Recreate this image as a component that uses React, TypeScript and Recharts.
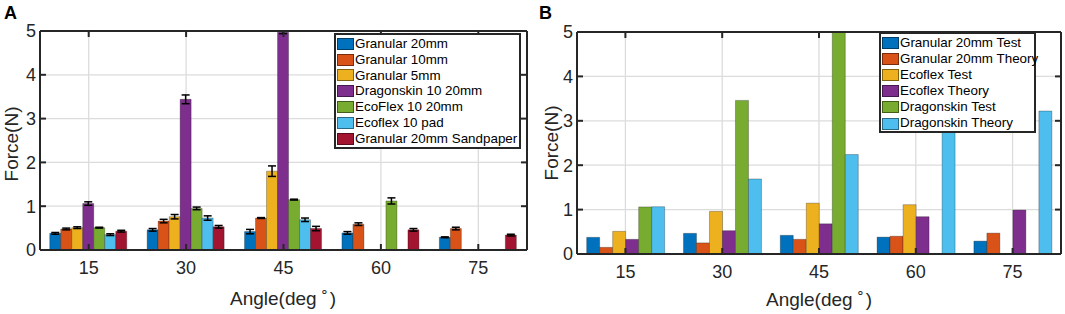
import React from 'react';
import { BarChart, Bar, XAxis, YAxis, CartesianGrid, ErrorBar, Legend } from 'recharts';

// ---------- shared ----------
const angles = [15, 30, 45, 60, 75];
const yTicks = [0, 1, 2, 3, 4, 5];

// ---------- Panel A (measured forces with error bars) ----------
const seriesNamesA = [
  'Granular 20mm',
  'Granular 10mm',
  'Granular 5mm',
  'Dragonskin 10 20mm',
  'EcoFlex 10 20mm',
  'Ecoflex 10 pad',
  'Granular 20mm Sandpaper',
];
const granular20 = [0.38, 0.46, 0.42, 0.39, 0.29];
const granular20Err = [0.02, 0.03, 0.05, 0.03, 0.01];
const granular10 = [0.48, 0.66, 0.73, 0.59, 0.49];
const granular10Err = [0.02, 0.04, 0.01, 0.03, 0.03];
const granular5 = [0.51, 0.76, 1.8, null, null];
const granular5Err = [0.02, 0.05, 0.12, null, null];
const dragonskin20 = [1.06, 3.44, 4.97, null, null];
const dragonskin20Err = [0.04, 0.1, 0.03, null, null];
const ecoflex20 = [0.51, 0.95, 1.15, 1.12, null];
const ecoflex20Err = [0.01, 0.03, 0.01, 0.07, null];
const ecoflexPad = [0.35, 0.73, 0.69, null, null];
const ecoflexPadErr = [0.02, 0.05, 0.04, null, null];
const sandpaper = [0.43, 0.53, 0.49, 0.46, 0.34];
const sandpaperErr = [0.02, 0.03, 0.05, 0.03, 0.02];

// ---------- Panel B (test vs theory) ----------
const seriesNamesB = [
  'Granular 20mm Test',
  'Granular 20mm Theory',
  'Ecoflex Test',
  'Ecoflex Theory',
  'Dragonskin Test',
  'Dragonskin Theory',
];
const granularTest = [0.375, 0.465, 0.42, 0.38, 0.29];
const granularTheory = [0.15, 0.25, 0.33, 0.4, 0.47];
const ecoflexTest = [0.51, 0.96, 1.145, 1.11, null];
const ecoflexTheory = [0.33, 0.525, 0.68, 0.84, 0.99];
const dragonskinTest = [1.06, 3.46, 5.0, null, null];
const dragonskinTheory = [1.065, 1.69, 2.24, 2.8, 3.22];

const colors = ['#0072BD', '#D95319', '#EDB120', '#7E2F8E', '#77AC30', '#4DBEEE', '#A2142F'];

const keysA = ['g20', 'g10', 'g5', 'd20', 'e20', 'epad', 'sand'];
const valsA = [granular20, granular10, granular5, dragonskin20, ecoflex20, ecoflexPad, sandpaper];
const errsA = [granular20Err, granular10Err, granular5Err, dragonskin20Err, ecoflex20Err, ecoflexPadErr, sandpaperErr];

const dataA = angles.map((a, i) => {
  const row: any = { angle: a };
  keysA.forEach((k, j) => {
    row[k] = valsA[j][i];
    row[k + 'Err'] = errsA[j][i];
  });
  return row;
});

const keysB = ['gt', 'gth', 'et', 'eth', 'dt', 'dth'];
const valsB = [granularTest, granularTheory, ecoflexTest, ecoflexTheory, dragonskinTest, dragonskinTheory];
const dataB = angles.map((a, i) => {
  const row: any = { angle: a };
  keysB.forEach((k, j) => {
    row[k] = valsB[j][i];
  });
  return row;
});

const FONT = '"Liberation Sans", Arial, Helvetica, sans-serif';
const AXIS = '#262626';

const makeLegend = (names: string[], width: number, height: number, rowH: number) => () => (
  <div
    style={{
      width,
      height,
      boxSizing: 'border-box',
      border: `2px solid ${AXIS}`,
      background: '#fff',
      padding: '1px 1px',
      fontFamily: FONT,
      fontSize: 13.4,
      color: '#000',
      lineHeight: `${rowH}px`,
    }}
  >
    {names.map((name, i) => (
      <div key={i} style={{ display: 'flex', alignItems: 'center', height: rowH, whiteSpace: 'nowrap' }}>
        <span
          style={{
            display: 'inline-block',
            width: 17,
            height: 12,
            boxSizing: 'border-box',
            background: colors[i],
            border: '0.6px solid rgba(0,0,0,0.45)',
            marginRight: 1,
            flex: 'none',
          }}
        />
        <span>{name}</span>
      </div>
    ))}
  </div>
);

const tickStyle = { fontSize: 18, fill: AXIS, fontFamily: FONT };
const axisLineStyle = { stroke: AXIS, strokeWidth: 2 };
const tickLineStyle = { stroke: AXIS, strokeWidth: 2 };
const noLabel = () => <g />;

function axesFor(width: number) {
  return [
    <CartesianGrid key="grid" stroke="#dcdcdc" strokeWidth={1.3} />,
    <XAxis
      key="xb"
      dataKey="angle"
      height={30}
      tick={tickStyle}
      axisLine={axisLineStyle}
      tickLine={tickLineStyle}
      tickSize={-6}
      tickMargin={17}
      interval={0}
    />,
    <XAxis
      key="xt"
      xAxisId="top"
      orientation="top"
      dataKey="angle"
      height={1}
      tick={noLabel}
      axisLine={axisLineStyle}
      tickLine={tickLineStyle}
      tickSize={-6}
      interval={0}
    />,
    <YAxis
      key="yl"
      domain={[0, 5]}
      ticks={yTicks}
      allowDataOverflow
      width={width}
      tick={tickStyle}
      axisLine={axisLineStyle}
      tickLine={tickLineStyle}
      tickSize={-6}
      tickMargin={10}
    />,
    <YAxis
      key="yr"
      yAxisId="right"
      orientation="right"
      domain={[0, 5]}
      ticks={yTicks}
      allowDataOverflow
      width={1}
      tick={noLabel}
      axisLine={axisLineStyle}
      tickLine={tickLineStyle}
      tickSize={-6}
    />,
  ];
}

export default function App() {
  return (
    <div style={{ position: 'absolute', left: 0, top: 0, width: 1065, height: 314, background: '#fff' }}>
      <div style={{ position: 'absolute', left: 0, top: 0 }}>
        <BarChart
          width={535}
          height={314}
          data={dataA}
          margin={{ top: 30, right: 7, bottom: 34, left: 0 }}
          barCategoryGap="10%"
          barGap={0}
        >
          {axesFor(40)}
          {keysA.map((k, j) => (
            <Bar
              key={k}
              dataKey={k}
              name={seriesNamesA[j]}
              fill={colors[j]}
              stroke="#000"
              strokeOpacity={0.45}
              strokeWidth={0.6}
              isAnimationActive={false}
            >
              <ErrorBar dataKey={k + 'Err'} width={4} stroke="#000" strokeWidth={1.5} />
            </Bar>
          ))}
          <Legend
            layout="vertical"
            align="center"
            verticalAlign="middle"
            content={makeLegend(seriesNamesA, 187, 116, 15.8)}
            wrapperStyle={{ position: 'absolute', left: 334, top: 33, right: 'auto', bottom: 'auto', width: 187 }}
          />
        </BarChart>
      </div>
      <div style={{ position: 'absolute', left: 530, top: 0 }}>
        <BarChart
          width={535}
          height={314}
          data={dataB}
          margin={{ top: 31, right: 3, bottom: 30, left: 0 }}
          barCategoryGap="10%"
          barGap={0}
        >
          {axesFor(47)}
          {keysB.map((k, j) => (
            <Bar
              key={k}
              dataKey={k}
              name={seriesNamesB[j]}
              fill={colors[j]}
              stroke="#000"
              strokeOpacity={0.45}
              strokeWidth={0.6}
              isAnimationActive={false}
            />
          ))}
          <Legend
            layout="vertical"
            align="center"
            verticalAlign="middle"
            content={makeLegend(seriesNamesB, 157, 101, 16.1)}
            wrapperStyle={{ position: 'absolute', left: 349, top: 32, right: 'auto', bottom: 'auto', width: 157 }}
          />
        </BarChart>
      </div>
      <svg
        width={1065}
        height={314}
        style={{ position: 'absolute', left: 0, top: 0, pointerEvents: 'none' }}
        fontFamily={FONT}
      >
        <text x={4} y={18.5} fontSize={18} fontWeight="bold" fill="#000">A</text>
        <text x={539} y={18.5} fontSize={18} fontWeight="bold" fill="#000">B</text>
        <text transform="translate(18,144) rotate(-90)" textAnchor="middle" fontSize={19} fill={AXIS}>Force(N)</text>
        <text transform="translate(558,143) rotate(-90)" textAnchor="middle" fontSize={19} fill={AXIS}>Force(N)</text>
        <text x={283} y={305} textAnchor="middle" fontSize={19} fill={AXIS}>
          Angle(deg<tspan dx={3} dy={-9} fontSize={14}>∘</tspan><tspan dx={1} dy={9}>)</tspan>
        </text>
        <text x={819} y={306} textAnchor="middle" fontSize={19} fill={AXIS}>
          Angle(deg<tspan dx={3} dy={-9} fontSize={14}>∘</tspan><tspan dx={1} dy={9}>)</tspan>
        </text>
      </svg>
    </div>
  );
}
